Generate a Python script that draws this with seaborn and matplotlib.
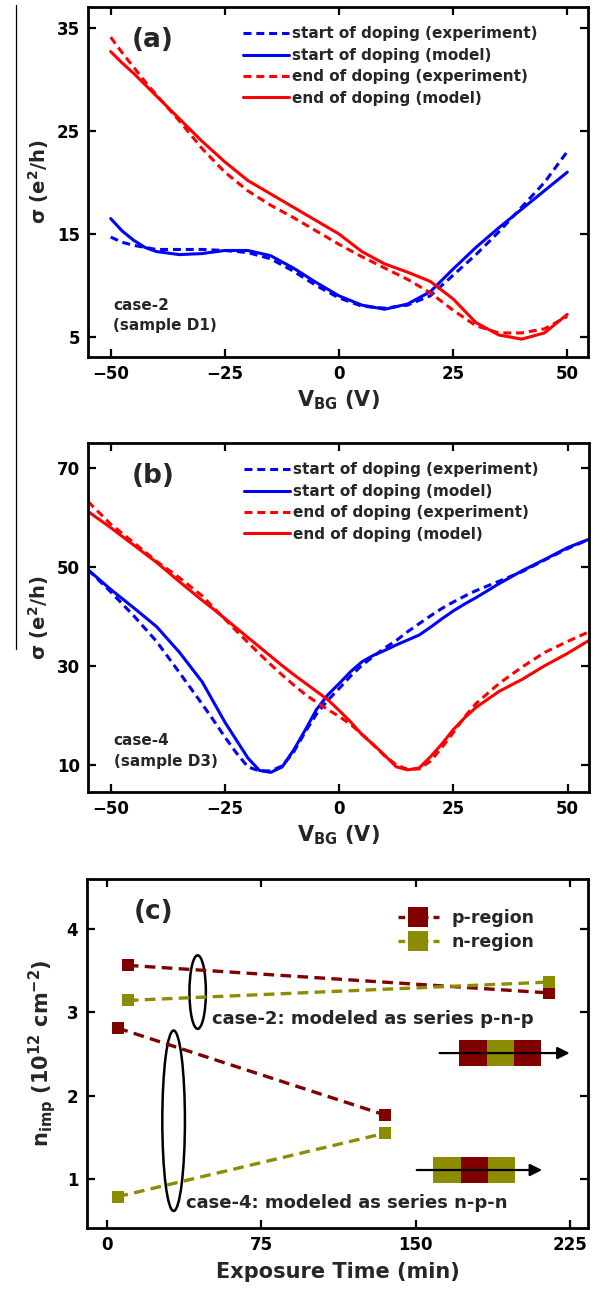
import matplotlib
matplotlib.use("Agg")
import matplotlib.pyplot as plt
import seaborn as sns
import pandas as pd
from matplotlib.patches import Ellipse, Rectangle
from matplotlib.lines import Line2D

# ---- panel (a): case-2, sample D1 ----
vbg_a = [-50, -47.5, -45, -42.5, -40, -35, -30, -25, -20, -15, -10, -5, 0,
         5, 10, 15, 20, 25, 30, 35, 40, 45, 50]
a_start_exp = [14.7, 14.2, 13.9, 13.7, 13.5, 13.5, 13.5, 13.4, 13.2, 12.6, 11.4, 10.0, 8.8,
               8.0, 7.8, 8.1, 9.0, 11.0, 13.0, 15.2, 17.6, 20.0, 23.0]
a_start_model = [16.5, 15.3, 14.4, 13.7, 13.3, 13.0, 13.1, 13.4, 13.4, 12.9, 11.7, 10.3, 9.0,
                 8.1, 7.7, 8.2, 9.4, 11.6, 13.7, 15.6, 17.4, 19.2, 21.0]
a_end_exp = [34.1, 32.6, 31.2, 29.8, 28.5, 26.0, 23.3, 21.0, 19.2, 17.8, 16.6, 15.3, 14.0,
             12.8, 11.7, 10.6, 9.3, 7.6, 6.1, 5.4, 5.4, 5.8, 7.0]
a_end_model = [32.7, 31.6, 30.6, 29.5, 28.4, 26.2, 24.0, 22.0, 20.2, 18.9, 17.6, 16.3, 15.0,
               13.3, 12.1, 11.3, 10.4, 8.7, 6.4, 5.2, 4.8, 5.4, 7.2]

# ---- panel (b): case-4, sample D3 ----
vbg_b = [-55, -50, -45, -40, -35, -30, -27.5, -25, -22.5, -20, -17.5, -15, -12.5, -10,
         -7.5, -5, -2.5, 0, 2.5, 5, 7.5, 10, 12.5, 15, 17.5, 20, 22.5, 25, 27.5, 30,
         35, 40, 45, 50, 55]
b_start_exp = [49.5, 45.0, 40.2, 35.0, 28.7, 22.3, 19.0, 15.6, 12.4, 9.6, 8.8, 8.8, 9.8, 12.6,
               16.6, 20.3, 23.1, 25.5, 28.0, 30.2, 32.0, 33.7, 35.2, 37.0, 38.6, 40.2, 41.7,
               43.0, 44.2, 45.3, 47.2, 49.1, 51.5, 53.8, 55.8]
b_start_model = [49.5, 45.5, 41.8, 38.0, 32.8, 26.8, 22.7, 18.6, 15.0, 11.4, 8.9, 8.5, 9.6, 13.0,
                 17.0, 21.2, 24.2, 26.5, 28.9, 30.9, 32.2, 33.2, 34.3, 35.3, 36.3, 37.9, 39.6,
                 41.2, 42.6, 43.9, 46.7, 49.3, 51.6, 54.0, 55.8]
b_end_exp = [63.3, 58.7, 55.0, 51.2, 47.9, 44.2, 41.8, 39.5, 37.1, 34.8, 32.5, 30.3, 28.2, 26.2,
             24.3, 22.7, 21.2, 19.8, 18.2, 16.2, 14.0, 11.8, 10.0, 9.1, 9.2, 10.8, 13.6,
             16.6, 19.8, 22.5, 26.5, 29.8, 32.8, 35.0, 37.1]
b_end_model = [61.3, 58.0, 54.5, 51.0, 47.1, 43.3, 41.5, 39.6, 37.7, 35.8, 33.9, 32.0, 30.1, 28.3,
               26.6, 24.9, 23.2, 21.0, 18.7, 16.1, 14.1, 11.9, 9.6, 9.0, 9.4, 11.7, 14.3,
               17.2, 19.6, 21.7, 24.9, 27.3, 30.1, 32.6, 35.4]

# ---- panel (c): impurity density vs exposure time ----
time_case2 = [10, 215]
time_case4 = [5, 135]
p_case2 = [3.56, 3.23]
n_case2 = [3.14, 3.36]
p_case4 = [2.81, 1.77]
n_case4 = [0.79, 1.55]

legend_labels = ["start of doping (experiment)", "start of doping (model)",
                 "end of doping (experiment)", "end of doping (model)"]

sns.set_theme(style="ticks")
plt.rcParams["font.family"] = ["DejaVu Sans"]
plt.rcParams["font.weight"] = "bold"
plt.rcParams["axes.labelweight"] = "bold"
plt.rcParams["mathtext.default"] = "bf"

BLUE, RED = "#0000ff", "#ff0000"
P_COL, N_COL = "#800000", "#8c8c00"
DASH = (0, (2.6, 1.6))

fig = plt.figure(figsize=(5.97, 12.95), dpi=100)
ax_a = fig.add_axes([0.1479, 0.7246, 0.8375, 0.2698])
ax_b = fig.add_axes([0.1482, 0.3887, 0.8387, 0.2690])
ax_c = fig.add_axes([0.1452, 0.0520, 0.8400, 0.2690])


def style_axes(ax):
    for sp in ax.spines.values():
        sp.set_linewidth(2.0)
        sp.set_color("black")
    ax.tick_params(direction="in", length=5.5, width=1.6, top=True, right=True,
                   labelsize=12, pad=6, colors="black")
    for lab in ax.get_xticklabels() + ax.get_yticklabels():
        lab.set_fontweight("bold")


def sweep_panel(ax, x, curves, letter, case_text):
    styles = [(BLUE, DASH), (BLUE, "-"), (RED, DASH), (RED, "-")]
    for (col, ls), y, lab in zip(styles, curves, legend_labels):
        sns.lineplot(x=x, y=y, ax=ax, color=col, linestyle=ls, lw=2.2, label=lab)
    ax.legend(loc="upper left", bbox_to_anchor=(0.31, 0.945), frameon=False,
              fontsize=11, handlelength=3.0, handletextpad=0.2, labelspacing=0.42,
              borderpad=0, borderaxespad=0)
    ax.text(0.086, 0.905, letter, transform=ax.transAxes, fontsize=19,
            fontweight="bold", va="center", ha="left")
    ax.text(0.05, 0.117, case_text, transform=ax.transAxes, fontsize=11,
            fontweight="bold", va="center", ha="left", linespacing=1.45)
    ax.set_xticks([-50, -25, 0, 25, 50])
    ax.set_xlabel("V$_{\\mathbf{BG}}$ (V)", fontsize=15, labelpad=4)
    ax.set_ylabel("σ (e$^{\\mathbf{2}}$/h)", fontsize=14, labelpad=4)
    style_axes(ax)


sweep_panel(ax_a, vbg_a, [a_start_exp, a_start_model, a_end_exp, a_end_model],
            "(a)", "case-2\n(sample D1)")
ax_a.set_xlim(-54.9, 54.6)
ax_a.set_ylim(3.1, 37.0)
ax_a.set_yticks([5, 15, 25, 35])

sweep_panel(ax_b, vbg_b, [b_start_exp, b_start_model, b_end_exp, b_end_model],
            "(b)", "case-4\n(sample D3)")
ax_b.set_xlim(-54.9, 54.7)
ax_b.set_ylim(4.6, 75.1)
ax_b.set_yticks([10, 30, 50, 70])

# panel (c)
df_c = pd.DataFrame({
    "time": time_case2 * 2 + time_case4 * 2,
    "nimp": p_case2 + n_case2 + p_case4 + n_case4,
    "region": ["p-region"] * 2 + ["n-region"] * 2 + ["p-region"] * 2 + ["n-region"] * 2,
    "case": ["case-2"] * 4 + ["case-4"] * 4,
})
df_c["series"] = df_c["case"] + df_c["region"]
sns.lineplot(data=df_c, x="time", y="nimp", hue="region", units="series",
             estimator=None, palette={"p-region": P_COL, "n-region": N_COL},
             ax=ax_c, lw=2.4, marker="s", markersize=9,
             markeredgewidth=0, legend=False, sort=False)
for ln in ax_c.lines:
    ln.set_linestyle((0, (3.2, 1.9)))
handles = [Line2D([0], [0], color=c, ls=(0, (2.0, 1.5)), lw=2.4, marker="s", ms=14, mew=0)
           for c in (P_COL, N_COL)]
ax_c.legend(handles, ["p-region", "n-region"], loc="upper left",
            bbox_to_anchor=(0.62, 0.915), frameon=False, fontsize=12.5,
            handlelength=2.4, handletextpad=0.7, labelspacing=0.35,
            borderpad=0, borderaxespad=0)

ax_c.add_patch(Ellipse((44.0, 3.24), 8.0, 0.88, fill=False, ec="black", lw=1.8))
ax_c.add_patch(Ellipse((32.3, 1.70), 11.0, 2.16, fill=False, ec="black", lw=1.8))
ax_c.text(50.8, 2.92, "case-2: modeled as series p-n-p", fontsize=13,
          fontweight="bold", va="center", ha="left")
ax_c.text(38.3, 0.72, "case-4: modeled as series n-p-n", fontsize=13,
          fontweight="bold", va="center", ha="left")

# series-junction sketches
for x0, y0, cols, arrow in [(171.3, 2.35, [P_COL, N_COL, P_COL], (161.7, 225.0, 2.51)),
                            (158.6, 0.95, [N_COL, P_COL, N_COL], (150.6, 211.6, 1.11))]:
    for i, c in enumerate(cols):
        ax_c.add_patch(Rectangle((x0 + i * 13.3, y0), 13.3, 0.32, color=c, lw=0, zorder=3))
    ax_c.annotate("", xy=(arrow[1], arrow[2]), xytext=(arrow[0], arrow[2]),
                  arrowprops=dict(arrowstyle="-|>", color="black", lw=1.6,
                                  mutation_scale=18, shrinkA=0, shrinkB=0), zorder=4)

ax_c.text(0.093, 0.907, "(c)", transform=ax_c.transAxes, fontsize=19,
          fontweight="bold", va="center", ha="left")
ax_c.set_xlim(-10, 234)
ax_c.set_ylim(0.42, 4.59)
ax_c.set_xticks([0, 75, 150, 225])
ax_c.set_yticks([1, 2, 3, 4])
ax_c.set_xlabel("Exposure Time (min)", fontsize=15, labelpad=6)
ax_c.set_ylabel("n$_{\\mathbf{imp}}$ (10$^{\\mathbf{12}}$ cm$^{\\mathbf{-2}}$)", fontsize=15, labelpad=6)
style_axes(ax_c)

# thin border line at the left edge of the source figure
fig.add_artist(Line2D([0.0263, 0.0263], [0.996, 0.499], color="black", lw=0.9))

fig.savefig("out.png", dpi=100)
